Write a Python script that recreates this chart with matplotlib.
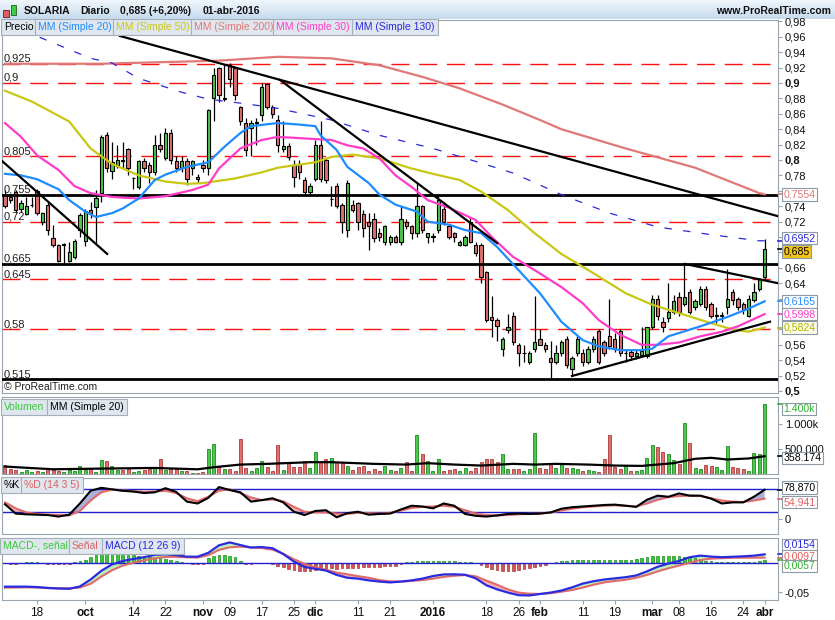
import matplotlib
matplotlib.use("Agg")
import matplotlib.pyplot as plt
from matplotlib.patches import Rectangle
import numpy as np
import pandas as pd

plt.rcParams['font.family'] = ['Liberation Sans', 'DejaVu Sans']

# ---------------- datos ----------------
festivos = ['2015-12-25', '2016-01-01', '2016-03-25', '2016-03-28']
fechas = pd.bdate_range('2015-09-10', '2016-04-01').drop(pd.to_datetime(festivos))

apertura = [
    0.754, 0.752, 0.759, 0.737, 0.730, 0.741, 0.760, 0.719, 0.741, 0.699,
    0.690, 0.690, 0.669, 0.674, 0.709, 0.695, 0.735, 0.739, 0.757, 0.833,
    0.786, 0.794, 0.800, 0.814, 0.776, 0.765, 0.799, 0.794, 0.784, 0.819,
    0.803, 0.835, 0.799, 0.789, 0.799, 0.789, 0.778, 0.794, 0.789, 0.880,
    0.919, 0.879, 0.923, 0.919, 0.869, 0.848, 0.841, 0.848, 0.858, 0.899,
    0.869, 0.852, 0.814, 0.818, 0.794, 0.795, 0.774, 0.759, 0.775, 0.819,
    0.800, 0.749, 0.766, 0.741, 0.709, 0.741, 0.744, 0.730, 0.719, 0.724,
    0.705, 0.694, 0.694, 0.700, 0.694, 0.719, 0.714, 0.705, 0.740, 0.700,
    0.700, 0.709, 0.737, 0.714, 0.705, 0.690, 0.690, 0.719, 0.690, 0.690,
    0.655, 0.596, 0.592, 0.554, 0.579, 0.598, 0.560, 0.549, 0.538, 0.554,
    0.568, 0.560, 0.543, 0.538, 0.549, 0.568, 0.529, 0.549, 0.549, 0.538,
    0.554, 0.578, 0.563, 0.572, 0.568, 0.578, 0.549, 0.551, 0.545, 0.547,
    0.545, 0.583, 0.619, 0.590, 0.595, 0.603, 0.622, 0.613, 0.628, 0.609,
    0.613, 0.633, 0.613, 0.598, 0.598, 0.609, 0.629, 0.620, 0.613, 0.598,
    0.618, 0.633, 0.648]
maximo = [
    0.761, 0.756, 0.761, 0.748, 0.752, 0.752, 0.762, 0.733, 0.745, 0.715,
    0.691, 0.692, 0.694, 0.697, 0.731, 0.737, 0.745, 0.761, 0.832, 0.836,
    0.824, 0.820, 0.824, 0.815, 0.778, 0.800, 0.802, 0.798, 0.832, 0.835,
    0.842, 0.840, 0.805, 0.805, 0.803, 0.800, 0.782, 0.800, 0.866, 0.919,
    0.921, 0.923, 0.926, 0.921, 0.870, 0.855, 0.852, 0.855, 0.900, 0.900,
    0.872, 0.858, 0.850, 0.822, 0.800, 0.800, 0.778, 0.770, 0.826, 0.850,
    0.803, 0.766, 0.770, 0.744, 0.774, 0.748, 0.746, 0.735, 0.731, 0.731,
    0.712, 0.716, 0.702, 0.702, 0.740, 0.724, 0.716, 0.772, 0.742, 0.705,
    0.705, 0.755, 0.745, 0.716, 0.707, 0.696, 0.702, 0.725, 0.693, 0.692,
    0.656, 0.624, 0.595, 0.570, 0.600, 0.602, 0.562, 0.560, 0.552, 0.624,
    0.580, 0.563, 0.565, 0.560, 0.566, 0.572, 0.545, 0.572, 0.554, 0.558,
    0.572, 0.580, 0.566, 0.619, 0.575, 0.580, 0.554, 0.555, 0.553, 0.583,
    0.583, 0.625, 0.625, 0.596, 0.640, 0.625, 0.628, 0.666, 0.632, 0.620,
    0.636, 0.636, 0.616, 0.609, 0.602, 0.658, 0.632, 0.622, 0.616, 0.625,
    0.640, 0.647, 0.697]
minimo = [
    0.738, 0.744, 0.731, 0.733, 0.728, 0.739, 0.729, 0.715, 0.703, 0.687,
    0.667, 0.666, 0.668, 0.672, 0.700, 0.688, 0.725, 0.690, 0.745, 0.785,
    0.775, 0.790, 0.789, 0.780, 0.762, 0.762, 0.785, 0.770, 0.780, 0.810,
    0.800, 0.795, 0.785, 0.785, 0.767, 0.780, 0.772, 0.785, 0.780, 0.850,
    0.875, 0.877, 0.895, 0.878, 0.845, 0.805, 0.805, 0.820, 0.850, 0.866,
    0.855, 0.810, 0.810, 0.800, 0.765, 0.775, 0.756, 0.756, 0.773, 0.772,
    0.770, 0.740, 0.738, 0.705, 0.700, 0.733, 0.709, 0.700, 0.683, 0.694,
    0.695, 0.690, 0.690, 0.692, 0.690, 0.710, 0.698, 0.700, 0.705, 0.692,
    0.694, 0.705, 0.715, 0.697, 0.694, 0.688, 0.688, 0.692, 0.675, 0.640,
    0.590, 0.570, 0.565, 0.545, 0.575, 0.560, 0.533, 0.538, 0.535, 0.550,
    0.560, 0.550, 0.516, 0.535, 0.545, 0.530, 0.520, 0.545, 0.532, 0.535,
    0.550, 0.535, 0.545, 0.555, 0.550, 0.545, 0.538, 0.540, 0.542, 0.544,
    0.543, 0.580, 0.592, 0.577, 0.590, 0.600, 0.598, 0.610, 0.600, 0.605,
    0.610, 0.605, 0.595, 0.588, 0.590, 0.600, 0.612, 0.605, 0.600, 0.596,
    0.615, 0.630, 0.645]
cierre = [
    0.740, 0.748, 0.735, 0.744, 0.740, 0.741, 0.731, 0.731, 0.709, 0.690,
    0.669, 0.690, 0.680, 0.695, 0.729, 0.734, 0.731, 0.750, 0.830, 0.790,
    0.797, 0.800, 0.799, 0.790, 0.776, 0.799, 0.789, 0.784, 0.819, 0.814,
    0.835, 0.800, 0.789, 0.799, 0.775, 0.799, 0.775, 0.789, 0.865, 0.910,
    0.884, 0.880, 0.905, 0.884, 0.850, 0.813, 0.848, 0.848, 0.895, 0.869,
    0.860, 0.820, 0.818, 0.804, 0.778, 0.785, 0.759, 0.766, 0.819, 0.775,
    0.774, 0.749, 0.740, 0.719, 0.770, 0.735, 0.719, 0.712, 0.714, 0.699,
    0.700, 0.714, 0.700, 0.694, 0.724, 0.714, 0.705, 0.740, 0.709, 0.705,
    0.700, 0.748, 0.719, 0.700, 0.700, 0.694, 0.700, 0.694, 0.679, 0.648,
    0.592, 0.592, 0.585, 0.568, 0.583, 0.563, 0.549, 0.549, 0.549, 0.563,
    0.560, 0.555, 0.538, 0.549, 0.563, 0.534, 0.543, 0.568, 0.538, 0.554,
    0.568, 0.538, 0.549, 0.559, 0.554, 0.549, 0.549, 0.545, 0.549, 0.552,
    0.583, 0.619, 0.598, 0.583, 0.603, 0.617, 0.603, 0.622, 0.603, 0.617,
    0.632, 0.609, 0.598, 0.598, 0.598, 0.620, 0.618, 0.609, 0.605, 0.620,
    0.629, 0.645, 0.685]

# volumen en miles de titulos
volumen = [
    190, 100, 82, 34, 82, 50, 68, 48, 122, 82,
    68, 34, 82, 68, 163, 82, 95, 40, 285, 265,
    163, 82, 82, 95, 50, 68, 82, 102, 150, 306,
    82, 95, 95, 54, 54, 14, 14, 40, 510, 612,
    136, 95, 95, 60, 714, 122, 68, 122, 252, 136,
    68, 578, 82, 231, 150, 136, 252, 120, 435, 245,
    306, 326, 245, 218, 163, 82, 136, 163, 68, 95,
    68, 163, 82, 68, 122, 238, 60, 782, 394, 258,
    68, 306, 68, 82, 95, 54, 122, 68, 122, 238,
    306, 306, 238, 394, 95, 95, 95, 68, 100, 830,
    122, 95, 204, 122, 204, 122, 122, 95, 68, 82,
    68, 34, 306, 782, 136, 95, 163, 54, 54, 82,
    326, 578, 544, 442, 408, 272, 204, 1020, 626, 122,
    95, 190, 163, 136, 82, 558, 150, 122, 95, 54,
    422, 408, 1400]
vol_mm_idx = [0, 9, 18, 28, 36, 39, 44, 49, 57, 61, 69, 75, 79, 84, 89, 95, 99, 103,
              109, 114, 119, 125, 129, 132, 135, 139, 142]
vol_mm = [150, 95, 109, 122, 95, 136, 190, 204, 238, 238, 204, 190, 218, 190, 170, 204,
          190, 204, 190, 170, 163, 218, 306, 326, 292, 313, 358.174]

# medias moviles (indice de sesion, precio)
mm20_idx = [0, 3, 6, 10, 12, 15, 17, 20, 22, 25, 28, 30, 34, 38, 41, 44, 46, 51, 55, 58,
            59, 62, 64, 68, 70, 73, 77, 79, 83, 86, 89, 92, 96, 100, 104, 108, 111, 115,
            119, 121, 124, 130, 135, 139, 142]
mm20 = [0.782, 0.780, 0.775, 0.762, 0.748, 0.733, 0.726, 0.731, 0.737, 0.750, 0.774, 0.781,
        0.791, 0.797, 0.817, 0.835, 0.844, 0.848, 0.846, 0.844, 0.832, 0.813, 0.791, 0.770,
        0.755, 0.742, 0.733, 0.720, 0.716, 0.709, 0.705, 0.687, 0.657, 0.627, 0.590, 0.566,
        0.558, 0.553, 0.553, 0.555, 0.571, 0.584, 0.596, 0.607, 0.6165]
mm30_idx = [0, 3, 6, 10, 13, 16, 20, 25, 30, 35, 38, 40, 44, 48, 51, 61, 64, 67, 70, 73,
            76, 79, 83, 88, 91, 95, 99, 104, 108, 111, 115, 119, 122, 126, 130, 134, 137, 142]
mm30 = [0.848, 0.830, 0.806, 0.787, 0.766, 0.757, 0.752, 0.750, 0.753, 0.761, 0.768, 0.789,
        0.815, 0.826, 0.830, 0.826, 0.819, 0.815, 0.802, 0.780, 0.765, 0.748, 0.738, 0.722,
        0.700, 0.674, 0.657, 0.635, 0.614, 0.592, 0.573, 0.560, 0.560, 0.563, 0.571, 0.577,
        0.584, 0.5998]
mm50_idx = [0, 5, 12, 16, 20, 25, 30, 34, 37, 43, 48, 51, 58, 61, 65, 70, 76, 80, 85, 89,
            94, 99, 104, 110, 116, 121, 127, 132, 136, 139, 142]
mm50 = [0.890, 0.876, 0.850, 0.815, 0.795, 0.780, 0.772, 0.769, 0.770, 0.776, 0.784, 0.790,
        0.797, 0.804, 0.807, 0.802, 0.789, 0.782, 0.774, 0.759, 0.735, 0.705, 0.678, 0.653,
        0.627, 0.612, 0.599, 0.588, 0.580, 0.577, 0.5824]
mm130_idx = [0, 8, 16, 20, 25, 29, 33, 38, 45, 51, 61, 70, 80, 89, 95, 104, 113, 122, 132,
             141, 142]
mm130 = [0.978, 0.955, 0.932, 0.926, 0.906, 0.897, 0.888, 0.879, 0.873, 0.867, 0.852, 0.832,
         0.815, 0.796, 0.783, 0.755, 0.731, 0.713, 0.703, 0.695, 0.6952]
mm200_idx = [0, 18, 40, 51, 61, 70, 78, 85, 93, 100, 104, 116, 129, 141, 142]
mm200 = [0.925, 0.925, 0.929, 0.934, 0.932, 0.923, 0.908, 0.893, 0.872, 0.852, 0.840, 0.815,
         0.790, 0.757, 0.7554]

# lineas de tendencia: ((sesion, precio), (sesion, precio))
tendencias = [((21.5, 0.961), (144.5, 0.727)),
              ((51.4, 0.904), (92.0, 0.692)),
              ((-0.6, 0.799), (19.1, 0.678)),
              ((106.0, 0.5195), (143.0, 0.590)),
              ((127.1, 0.665), (144.5, 0.640))]
soportes = [0.755, 0.665, 0.515]
niveles_rojos = [0.925, 0.9, 0.805, 0.72, 0.645, 0.58]
etiquetas_niveles = {0.925: '0,925', 0.9: '0,9', 0.805: '0,805', 0.755: '0,755', 0.72: '0,72',
                     0.665: '0,665', 0.645: '0,645', 0.58: '0,58', 0.515: '0,515'}

# estocastico y MACD, leidos cada dos sesiones
osc_idx = list(range(0, 143, 2))
stoch_k = [40, 15, 13, 12, 11, 7, 12, 42, 76, 84,
           80, 76, 74, 70, 72, 83, 73, 47, 42, 57,
           86, 78, 72, 47, 51, 56, 45, 20, 11, 22,
           24, 5, 16, 20, 12, 14, 15, 26, 36, 34,
           29, 42, 36, 14, 9, 7, 10, 14, 15, 14,
           15, 18, 28, 32, 34, 36, 38, 39, 36, 33,
           52, 63, 60, 69, 63, 63, 55, 42, 45, 45,
           60, 78.87]
stoch_d = [45, 29, 18, 14, 12, 11, 10, 22, 50, 72,
           79, 77, 75, 73, 74, 76, 70, 56, 48, 60,
           76, 80, 70, 58, 51, 53, 48, 33, 20, 18,
           18, 15, 14, 17, 16, 15, 17, 23, 30, 33,
           34, 36, 33, 24, 15, 11, 10, 11, 13, 14,
           15, 18, 23, 28, 32, 34, 36, 37, 36, 34,
           42, 52, 59, 62, 63, 62, 56, 50, 47, 46,
           50, 54.941]
macd = [-0.0403, -0.0403, -0.0403, -0.0410, -0.0425, -0.0435, -0.0440, -0.0400, -0.0280, -0.0130,
        -0.0020, 0.0040, 0.0075, 0.0105, 0.0145, 0.0155, 0.0140, 0.0114, 0.0114, 0.0180,
        0.0310, 0.0360, 0.0315, 0.0270, 0.0280, 0.0260, 0.0160, 0.0030, -0.0065, -0.0095,
        -0.0125, -0.0200, -0.0250, -0.0265, -0.0295, -0.0315, -0.0330, -0.0315, -0.0295, -0.0265,
        -0.0220, -0.0192, -0.0190, -0.0198, -0.0260, -0.0380, -0.0450, -0.0505, -0.0550, -0.0555,
        -0.0530, -0.0505, -0.0470, -0.0415, -0.0350, -0.0310, -0.0280, -0.0260, -0.0240, -0.0210,
        -0.0140, -0.0060, -0.0005, 0.0040, 0.0105, 0.0132, 0.0115, 0.0105, 0.0112, 0.0120,
        0.0132, 0.0154]
senal = [-0.0420, -0.0418, -0.0415, -0.0418, -0.0428, -0.0431, -0.0431, -0.0418, -0.0355, -0.0230,
         -0.0120, -0.0040, 0.0010, 0.0050, 0.0086, 0.0108, 0.0112, 0.0103, 0.0098, 0.0140,
         0.0230, 0.0275, 0.0287, 0.0275, 0.0262, 0.0235, 0.0165, 0.0070, -0.0010, -0.0070,
         -0.0110, -0.0160, -0.0190, -0.0222, -0.0250, -0.0290, -0.0312, -0.0317, -0.0305, -0.0290,
         -0.0265, -0.0235, -0.0215, -0.0202, -0.0225, -0.0300, -0.0370, -0.0450, -0.0505, -0.0525,
         -0.0528, -0.0517, -0.0490, -0.0460, -0.0420, -0.0370, -0.0330, -0.0305, -0.0285, -0.0250,
         -0.0200, -0.0140, -0.0086, -0.0040, 0.0010, 0.0055, 0.0080, 0.0088, 0.0095, 0.0097,
         0.0097, 0.0097]
histograma = [
    0.000, -0.0015, -0.001, 0.000, 0.0015, 0.0017, 0.0017, 0.0012, -0.0010, -0.0017,
    -0.0017, -0.0017, -0.0012, 0.0025, 0.0040, 0.0050, 0.0100, 0.0150, 0.0180, 0.0190,
    0.0190, 0.0185, 0.0180, 0.0160, 0.0140, 0.0125, 0.0110, 0.0100, 0.0090, 0.0085,
    0.0080, 0.0060, 0.0045, 0.0030, 0.0010, -0.0012, -0.0015, -0.0005, 0.0090, 0.0120,
    0.0140, 0.0140, 0.0130, 0.0100, 0.0040, -0.0015, -0.0010, 0.0005, 0.0010, 0.0000,
    -0.0010, -0.0040, -0.0070, -0.0090, -0.0110, -0.0125, -0.0140, -0.0130, -0.0110, -0.0100,
    -0.0090, -0.0085, -0.0090, -0.0085, -0.0080, -0.0075, -0.0080, -0.0070, -0.0065, -0.0060,
    -0.0060, -0.0055, -0.0050, -0.0040, -0.0010, 0.0020, 0.0030, 0.0035, 0.0035, 0.0040,
    0.0040, 0.0045, 0.0045, 0.0040, 0.0035, 0.0030, 0.0030, 0.0025, 0.0010, -0.0030,
    -0.0070, -0.0100, -0.0120, -0.0135, -0.0140, -0.0130, -0.0115, -0.0100, -0.0080, -0.0060,
    -0.0040, -0.0025, 0.0010, 0.0030, 0.0040, 0.0045, 0.0050, 0.0050, 0.0050, 0.0050,
    0.0050, 0.0050, 0.0050, 0.0055, 0.0055, 0.0050, 0.0050, 0.0055, 0.0080, 0.0090,
    0.0100, 0.0120, 0.0130, 0.0130, 0.0125, 0.0120, 0.0120, 0.0115, 0.0110, 0.0090,
    0.0070, 0.0045, 0.0035, 0.0025, 0.0025, 0.0030, 0.0025, 0.0025, 0.0025, 0.0030,
    0.0030, 0.0035, 0.0057]

marcas_fecha = ['2015-09-18', '2015-10-01', '2015-10-14', '2015-10-22', '2015-11-02',
                '2015-11-09', '2015-11-17', '2015-11-25', '2015-12-01', '2015-12-11',
                '2015-12-21', '2016-01-04', '2016-01-18', '2016-01-26', '2016-02-01',
                '2016-02-11', '2016-02-19', '2016-03-01', '2016-03-08', '2016-03-16',
                '2016-03-24', '2016-04-01']
textos_fecha = ['18', 'oct', '14', '22', 'nov', '09', '17', '25', 'dic', '11', '21', '2016',
                '18', '26', 'feb', '11', '19', 'mar', '08', '16', '24', 'abr']

# ---------------- estilo ----------------
VERDE, ROJO = '#4cc84c', '#e0706e'
C_MM20, C_MM50, C_MM200, C_MM30, C_MM130 = '#1e8cff', '#c8c814', '#e07878', '#ff3cc8', '#2a2ad8'
GRIS = '#9aa4ae'
W, H = 835, 620


def caja(l, t, r, b):
    return [l / W, 1 - b / H, (r - l) / W, (b - t) / H]


def fx(x):
    return x / W


def fy(y):
    return 1 - y / H


def coma(v, dec):
    return f'{v:.{dec}f}'.replace('.', ',')


fig = plt.figure(figsize=(W / 100, H / 100), dpi=100)

# barra de titulo
ax_t = fig.add_axes(caja(0, 0, 835, 19))
ax_t.imshow(np.linspace(0, 1, 20).reshape(-1, 1), aspect='auto',
            cmap=matplotlib.colors.LinearSegmentedColormap.from_list('t', ['#f0f6fb', '#c6dbee']),
            extent=(0, 1, 0, 1))
ax_t.axis('off')
fig.patches.append(Rectangle((fx(3), fy(17)), fx(6), 7 / H, transform=fig.transFigure,
                             fc='#e06060', ec='#602020', lw=0.6))
fig.patches.append(Rectangle((fx(11), fy(15)), fx(5), 10 / H, transform=fig.transFigure,
                             fc='#40cc40', ec='#206020', lw=0.6))
tit = dict(fontsize=7.5, fontweight='bold', va='center', color='#101010')
fig.text(fx(24), fy(11.5), 'SOLARIA', **tit)
fig.text(fx(80), fy(11.5), 'Diario', **tit)
fig.text(fx(120), fy(11.5), '0,685 (+6,20%)', **tit)
fig.text(fx(203), fy(11.5), '01-abr-2016', **tit)
fig.text(fx(831), fy(11.5), 'www.ProRealTime.com', ha='right', **tit)

ax_p = fig.add_axes(caja(2, 20, 778, 393))
ax_v = fig.add_axes(caja(2, 397, 778, 474), sharex=ax_p)
ax_s = fig.add_axes(caja(2, 478, 778, 534), sharex=ax_p)
ax_m = fig.add_axes(caja(2, 538, 778, 600), sharex=ax_p)

for ax in (ax_p, ax_v, ax_s, ax_m):
    for sp in ax.spines.values():
        sp.set_color(GRIS)
    ax.yaxis.tick_right()
    ax.tick_params(axis='y', direction='out', length=3, width=0.8, colors=GRIS,
                   labelcolor='#101010', labelsize=8, pad=2)
    ax.tick_params(axis='x', bottom=False, labelbottom=False)
ax_p.set_xlim(-0.56, 144.5)

x = np.arange(len(fechas))
o, hi, lo, c = map(np.array, (apertura, maximo, minimo, cierre))
sube = c >= o
colores = np.where(sube, VERDE, ROJO)

# ---- panel de precio ----
ax_p.set_ylim(0.4974, 0.9818)
for nivel in niveles_rojos:
    ax_p.axhline(nivel, color='#ff1010', lw=1.0, ls=(0, (13, 7)), zorder=1)
for nivel in soportes:
    ax_p.axhline(nivel, color='black', lw=2.0, zorder=4)
for nivel, txt in etiquetas_niveles.items():
    ax_p.text(0.002, nivel, txt, transform=ax_p.get_yaxis_transform(), fontsize=8,
              va='bottom', ha='left', color='#202020', zorder=6)

ax_p.vlines(x, lo, hi, color='black', lw=0.9, zorder=2)
ax_p.bar(x, np.maximum(np.abs(c - o), 0.0007), bottom=np.minimum(o, c), width=0.62,
         color=colores, edgecolor='black', lw=0.8, zorder=3)

ax_p.plot(mm200_idx, mm200, color=C_MM200, lw=1.6, zorder=4)
ax_p.plot(mm130_idx, mm130, color=C_MM130, lw=0.9, ls=(0, (6, 9)), zorder=4)
ax_p.plot(mm50_idx, mm50, color=C_MM50, lw=1.6, zorder=4)
ax_p.plot(mm30_idx, mm30, color=C_MM30, lw=1.6, zorder=4)
ax_p.plot(mm20_idx, mm20, color=C_MM20, lw=1.6, zorder=4)
for (x0, y0), (x1, y1) in tendencias:
    ax_p.plot([x0, x1], [y0, y1], color='black', lw=1.6, zorder=5)

ticks_p = np.round(np.arange(0.50, 0.981, 0.02), 2)
ocultos = {0.76, 0.70, 0.68, 0.62, 0.60, 0.58}
ax_p.set_yticks(ticks_p)
ax_p.set_yticklabels(['' if t in ocultos else coma(t, 2).rstrip('0') for t in ticks_p])
for t, lab in zip(ticks_p, ax_p.get_yticklabels()):
    if abs(t * 10 - round(t * 10)) < 1e-6:
        lab.set_fontweight('bold')
ax_p.text(0.002, 0.505, '© ProRealTime.com', transform=ax_p.get_yaxis_transform(),
          fontsize=7.5, va='center', color='#202020')


def caja_valor(ax, valor, texto, color, fondo='white', dy=0):
    ax.plot([1.0, 1.006], [valor, valor], transform=ax.get_yaxis_transform(),
            color=color, lw=1.2, clip_on=False, zorder=9)
    ax.annotate(texto, xy=(1.0, valor), xycoords=ax.get_yaxis_transform(),
                xytext=(4, -dy * 0.72), textcoords='offset points', ha='left', va='center',
                fontsize=7.6, color=color, annotation_clip=False, zorder=10,
                bbox=dict(boxstyle='square,pad=0.12', fc=fondo, ec='#8e99a4', lw=0.8))


caja_valor(ax_p, mm200[-1], coma(mm200[-1], 4), C_MM200)
caja_valor(ax_p, mm130[-1], coma(mm130[-1], 4), C_MM130, dy=-2.5)
caja_valor(ax_p, cierre[-1], coma(cierre[-1], 3), 'black', fondo='#f3c418', dy=3)
caja_valor(ax_p, mm20[-1], coma(mm20[-1], 4), C_MM20)
caja_valor(ax_p, mm30[-1], coma(mm30[-1], 4), C_MM30)
caja_valor(ax_p, mm50[-1], coma(mm50[-1], 4), '#b4b400', fondo='#fbfbe8')

leyenda = [(2, 'Precio', 'black'), (36, 'MM (Simple 20)', C_MM20),
           (114, 'MM (Simple 50)', C_MM50), (192, 'MM (Simple 200)', C_MM200),
           (274, 'MM (Simple 30)', C_MM30), (353, 'MM (Simple 130)', C_MM130)]
for xp, txt, col in leyenda:
    fig.text(fx(xp + 2), fy(27), txt, fontsize=7.5, color=col, va='center', zorder=10,
             bbox=dict(boxstyle='square,pad=0.3', fc='#dfe6ee', ec='#a4afba', lw=0.8))

# ---- volumen ----
ax_v.set_ylim(0, 1551)
ax_v.bar(x, volumen, width=0.56, color=colores,
         edgecolor=np.where(sube, '#1d8a1d', '#a83c3c'), lw=0.6, zorder=2)
ax_v.plot(vol_mm_idx, vol_mm, color='black', lw=1.6, zorder=3)
ax_v.set_yticks([500, 1000])
ax_v.set_yticklabels(['500.000', '1.000k'])
caja_valor(ax_v, volumen[-1], '1.400k', '#2fb12f', dy=4.5)
caja_valor(ax_v, vol_mm[-1], '358.174', 'black', dy=2)
fig.text(fx(4), fy(407), 'Volumen', fontsize=7.5, color='#3cc83c', va='center', zorder=10,
         bbox=dict(boxstyle='square,pad=0.3', fc='#dfe6ee', ec='#a4afba', lw=0.8))
fig.text(fx(50), fy(407), 'MM (Simple 20)', fontsize=7.5, color='black', va='center', zorder=10,
         bbox=dict(boxstyle='square,pad=0.3', fc='#dfe6ee', ec='#a4afba', lw=0.8))

# ---- estocastico ----
ax_s.set_ylim(-39.7, 110.3)
k, d = np.array(stoch_k), np.array(stoch_d)
ax_s.fill_between(osc_idx, k, d, where=k >= d, interpolate=True, color='#aeb0dc', lw=0)
ax_s.fill_between(osc_idx, k, d, where=k < d, interpolate=True, color='#f3b6b6', lw=0)
ax_s.axhline(80, color='#2020d0', lw=1.0)
ax_s.axhline(20, color='#2020d0', lw=1.0)
ax_s.plot(osc_idx, d, color='#e06a6a', lw=1.5)
ax_s.plot(osc_idx, k, color='black', lw=1.5)
ax_s.set_yticks([0])
ax_s.set_yticklabels(['0'])
caja_valor(ax_s, stoch_k[-1], '78,870', 'black', dy=-2)
caja_valor(ax_s, stoch_d[-1], '54,941', '#e06060', dy=3.5)
fig.text(fx(4), fy(485), '%K', fontsize=7.5, color='black', va='center', zorder=10,
         bbox=dict(boxstyle='square,pad=0.3', fc='#dfe6ee', ec='#a4afba', lw=0.8))
fig.text(fx(24), fy(485), '%D (14 3 5)', fontsize=7.5, color='#e06060', va='center', zorder=10,
         bbox=dict(boxstyle='square,pad=0.3', fc='#dfe6ee', ec='#a4afba', lw=0.8))

# ---- MACD ----
ax_m.set_ylim(-0.0633, 0.0436)
mc, se, hs = np.array(macd), np.array(senal), np.array(histograma)
ax_m.bar(x, hs, width=0.5, color=np.where(hs >= 0, '#3cc83c', '#d85454'),
         edgecolor=np.where(hs >= 0, '#1d8a1d', '#a83c3c'), lw=0.5, zorder=2)
ax_m.fill_between(osc_idx, mc, se, where=mc >= se, interpolate=True, color='#bdf0b6', lw=0, zorder=1)
ax_m.fill_between(osc_idx, mc, se, where=mc < se, interpolate=True, color='#f3b4b4', lw=0, zorder=1)
ax_m.axhline(0, color='#2020d0', lw=1.0, zorder=2)
ax_m.plot(osc_idx, se, color='#e06a6a', lw=1.5, zorder=3)
ax_m.plot(osc_idx, mc, color='#2a2ae0', lw=1.6, zorder=4)
ax_m.set_yticks([-0.05])
ax_m.set_yticklabels(['-0,05'])
caja_valor(ax_m, macd[-1], '0,0154', '#2a2ae0', dy=-9.4)
caja_valor(ax_m, senal[-1], '0,0097', '#e06060', dy=-1.5)
caja_valor(ax_m, histograma[-1], '0,0057', '#2fb12f', dy=6)
for xp, txt, col in [(3, 'MACD-, señal', '#3cc83c'), (72, 'Señal', '#e06060'),
                     (105, 'MACD (12 26 9)', '#2a2ae0')]:
    fig.text(fx(xp), fy(546), txt, fontsize=7.5, color=col, va='center', zorder=10,
             bbox=dict(boxstyle='square,pad=0.3', fc='#dfe6ee', ec='#a4afba', lw=0.8))

# eje de fechas
pos = fechas.get_indexer(pd.to_datetime(marcas_fecha))
ax_m.set_xticks(pos)
ax_m.set_xticklabels(textos_fecha)
ax_m.tick_params(axis='x', bottom=True, labelbottom=True, length=3, colors=GRIS,
                 labelcolor='#101010', labelsize=8.5, pad=2)
for lab in ax_m.get_xticklabels():
    if not lab.get_text().isdigit() or lab.get_text() == '2016':
        lab.set_fontweight('bold')

fig.savefig('out.png', dpi=100)
